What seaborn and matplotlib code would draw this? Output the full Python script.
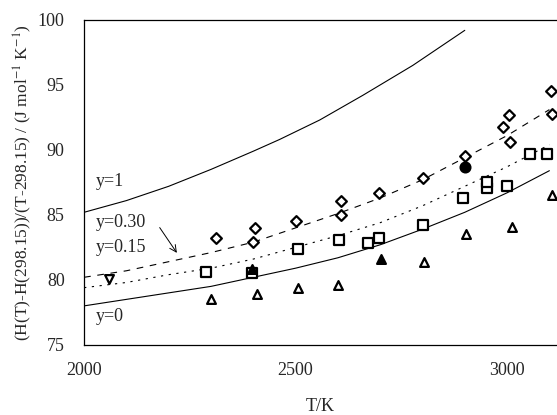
import numpy as np
import pandas as pd
import matplotlib
matplotlib.use("Agg")
import matplotlib.pyplot as plt
import seaborn as sns

# Model curves
T_curve = [2000, 2100, 2200, 2300, 2400, 2500, 2600, 2700, 2800, 2900, 3000, 3100]
y1_T = [2000, 2100, 2200, 2300, 2400, 2462, 2557, 2659, 2777, 2900]
y1_vals = [85.2, 86.1, 87.2, 88.5, 89.9, 90.8, 92.3, 94.2, 96.5, 99.2]
y030_vals = [80.2, 80.7, 81.4, 82.1, 82.9, 84.0, 85.1, 86.3, 87.7, 89.4, 91.1, 93.1]
y015_vals = [79.4, 79.8, 80.4, 80.9, 81.6, 82.5, 83.4, 84.4, 85.7, 87.2, 88.7, 90.4]
y0_vals = [78.0, 78.5, 79.0, 79.5, 80.2, 80.9, 81.7, 82.7, 83.9, 85.2, 86.7, 88.4]

# Experimental points
dia_T = [2312, 2403, 2400, 2500, 2607, 2607, 2697, 2802, 2900, 2990, 3005, 3007, 3104, 3107]
dia_v = [83.2, 84.0, 82.9, 84.5, 86.1, 85.0, 86.7, 87.8, 89.5, 91.8, 92.7, 90.6, 94.5, 92.8]
sq_T = [2289, 2398, 2505, 2602, 2670, 2697, 2801, 2896, 2952, 2952, 3000, 3055, 3095]
sq_v = [80.6, 80.5, 82.4, 83.1, 82.8, 83.2, 84.2, 86.3, 87.1, 87.5, 87.2, 89.7, 89.7]
tri_T = [2301, 2408, 2505, 2600, 2804, 2903, 3012, 3107]
tri_v = [78.5, 78.9, 79.4, 79.6, 81.4, 83.5, 84.1, 86.5]
ftri_T = [2398, 2701]
ftri_v = [80.8, 81.6]
fcirc_T = [2900]
fcirc_v = [88.7]
dtri_T = [2059]
dtri_v = [80.1]

sns.set_theme(style="white")
plt.rcParams['font.family'] = ['Liberation Serif', 'DejaVu Serif']
plt.rcParams['mathtext.fontset'] = 'stix'

fig = plt.figure(figsize=(5.57, 4.15), dpi=100)
ax = fig.add_axes([0.151, 0.169, 0.849, 0.783])

curves = [
    (y1_T, y1_vals, '-'),
    (T_curve, y030_vals, (0, (6, 6))),
    (T_curve, y015_vals, (0, (2, 5))),
    (T_curve, y0_vals, '-'),
]
for xs, ys, ls in curves:
    df = pd.DataFrame({'T': xs, 'v': ys})
    sns.lineplot(data=df, x='T', y='v', ax=ax, color='black', lw=0.8,
                 linestyle=ls, sort=False, estimator=None)

def pts(xs, ys, marker, face, size):
    df = pd.DataFrame({'T': xs, 'v': ys})
    sns.scatterplot(data=df, x='T', y='v', ax=ax, marker=marker, s=size,
                    facecolor=face, edgecolor='black', linewidth=1.6, zorder=3)

pts(dia_T, dia_v, 'D', 'white', 30)
pts(sq_T, sq_v, 's', 'white', 48)
pts(tri_T, tri_v, '^', 'white', 40)
pts(ftri_T, ftri_v, '^', 'black', 40)
pts(fcirc_T, fcirc_v, 'o', 'black', 50)
pts(dtri_T, dtri_v, 'v', 'white', 40)

ax.set_xlim(2000, 3118)
ax.set_ylim(75, 100)
ax.set_xticks([2000, 2500, 3000])
ax.set_yticks([75, 80, 85, 90, 95, 100])
ax.tick_params(axis='y', direction='in', length=4, width=0.8, labelsize=13, pad=14, color='black')
ax.tick_params(axis='x', length=0, labelsize=13, pad=12)
for s in ['top', 'left', 'bottom']:
    ax.spines[s].set_color('black')
    ax.spines[s].set_linewidth(0.9)
ax.spines['right'].set_visible(False)

ax.set_xlabel('T/K', fontsize=13, labelpad=14)
ax.set_ylabel(r'(H(T)-H(298.15))/(T-298.15) / (J mol$^{-1}$ K$^{-1}$)', fontsize=12.5, labelpad=3)

ax.text(2028, 87.6, 'y=1', fontsize=13, va='center', ha='left')
ax.text(2028, 84.4, 'y=0.30', fontsize=13, va='center', ha='left')
ax.text(2028, 82.5, 'y=0.15', fontsize=13, va='center', ha='left')
ax.text(2028, 77.2, 'y=0', fontsize=13, va='center', ha='left')
ax.annotate('', xy=(2223, 81.9), xytext=(2175, 84.2),
            arrowprops=dict(arrowstyle='->', color='black', lw=0.7))

fig.savefig('out.png', dpi=100)
